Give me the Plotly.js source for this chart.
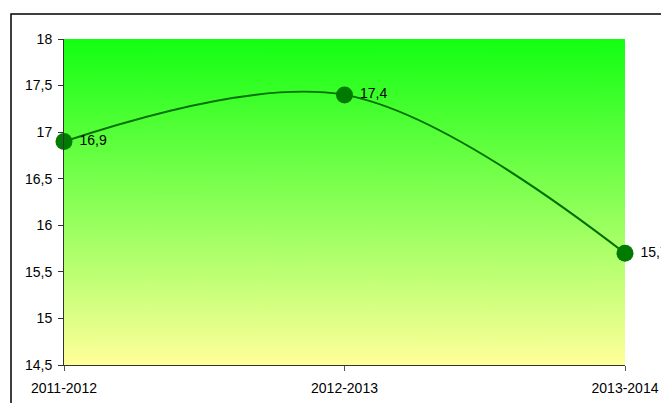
<!DOCTYPE html>
<html>
<head>
<meta charset="utf-8">
<script src="https://cdn.plot.ly/plotly-3.0.1.min.js"></script>
<style>
html,body{margin:0;padding:0;background:#fff;}
#chart{width:661px;height:403px;}
</style>
</head>
<body>
<div id="chart"></div>
<script>
const categories = ['2011-2012', '2012-2013', '2013-2014'];
const values = [16.9, 17.4, 15.7];
const valueLabels = ['16,9', '17,4', '15,7'];
const yTicks = [14.5, 15, 15.5, 16, 16.5, 17, 17.5, 18];
const yTickLabels = ['14,5', '15', '15,5', '16', '16,5', '17', '17,5', '18'];

// gradient background image
const cv = document.createElement('canvas');
cv.width = 10; cv.height = 326;
const ctx = cv.getContext('2d');
const g = ctx.createLinearGradient(0, 0, 0, 326);
g.addColorStop(0, '#12ff12');
g.addColorStop(1, '#ffff99');
ctx.fillStyle = g;
ctx.fillRect(0, 0, 10, 326);
const bg = cv.toDataURL('image/png');

const W = 661, H = 403;
const L = 64, R = 36, T = 39, B = 38;
const pw = W - L - R, ph = H - T - B;
const FONT = 'Liberation Sans, Arial, sans-serif';

const trace = {
  type: 'scatter',
  mode: 'lines+markers+text',
  x: categories,
  y: values,
  text: valueLabels.map(s => '\u00a0' + s),
  textposition: 'middle right',
  textfont: {family: FONT, size: 14, color: '#000'},
  line: {color: '#007000', width: 2, shape: 'spline', smoothing: 1},
  marker: {color: '#007a00', size: 17},
  cliponaxis: false,
  hoverinfo: 'skip'
};

const layout = {
  width: W, height: H,
  margin: {l: L, r: R, t: T, b: B, pad: 0},
  paper_bgcolor: '#fff',
  plot_bgcolor: 'rgba(0,0,0,0)',
  showlegend: false,
  font: {family: FONT, size: 14, color: '#000'},
  xaxis: {
    type: 'category',
    range: [0, categories.length - 1],
    showgrid: false, zeroline: false,
    showline: true, linecolor: '#333', linewidth: 1,
    ticks: 'outside', ticklen: 5, tickcolor: '#555',
    ticklabelstandoff: 5,
    tickfont: {family: FONT, size: 14, color: '#000'}
  },
  yaxis: {
    range: [14.5, 18],
    tickvals: yTicks, ticktext: yTickLabels,
    showgrid: false, zeroline: false,
    showline: true, linecolor: '#333', linewidth: 1,
    ticks: 'outside', ticklen: 5, tickcolor: '#333',
    ticklabelstandoff: 3,
    tickfont: {family: FONT, size: 14, color: '#000'}
  },
  images: [{
    source: bg, xref: 'paper', yref: 'paper',
    x: 0, y: 1, sizex: 1, sizey: 1,
    xanchor: 'left', yanchor: 'top', sizing: 'stretch', layer: 'below'
  }],
  shapes: [{
    type: 'rect', xref: 'paper', yref: 'paper',
    x0: (11 - L) / pw, x1: 2,
    y0: -1, y1: 1 + (T - 14) / ph,
    line: {color: '#000', width: 1.5},
    fillcolor: 'rgba(0,0,0,0)', layer: 'above'
  }]
};

Plotly.newPlot('chart', [trace], layout, {displayModeBar: false, staticPlot: true});
</script>
</body>
</html>
